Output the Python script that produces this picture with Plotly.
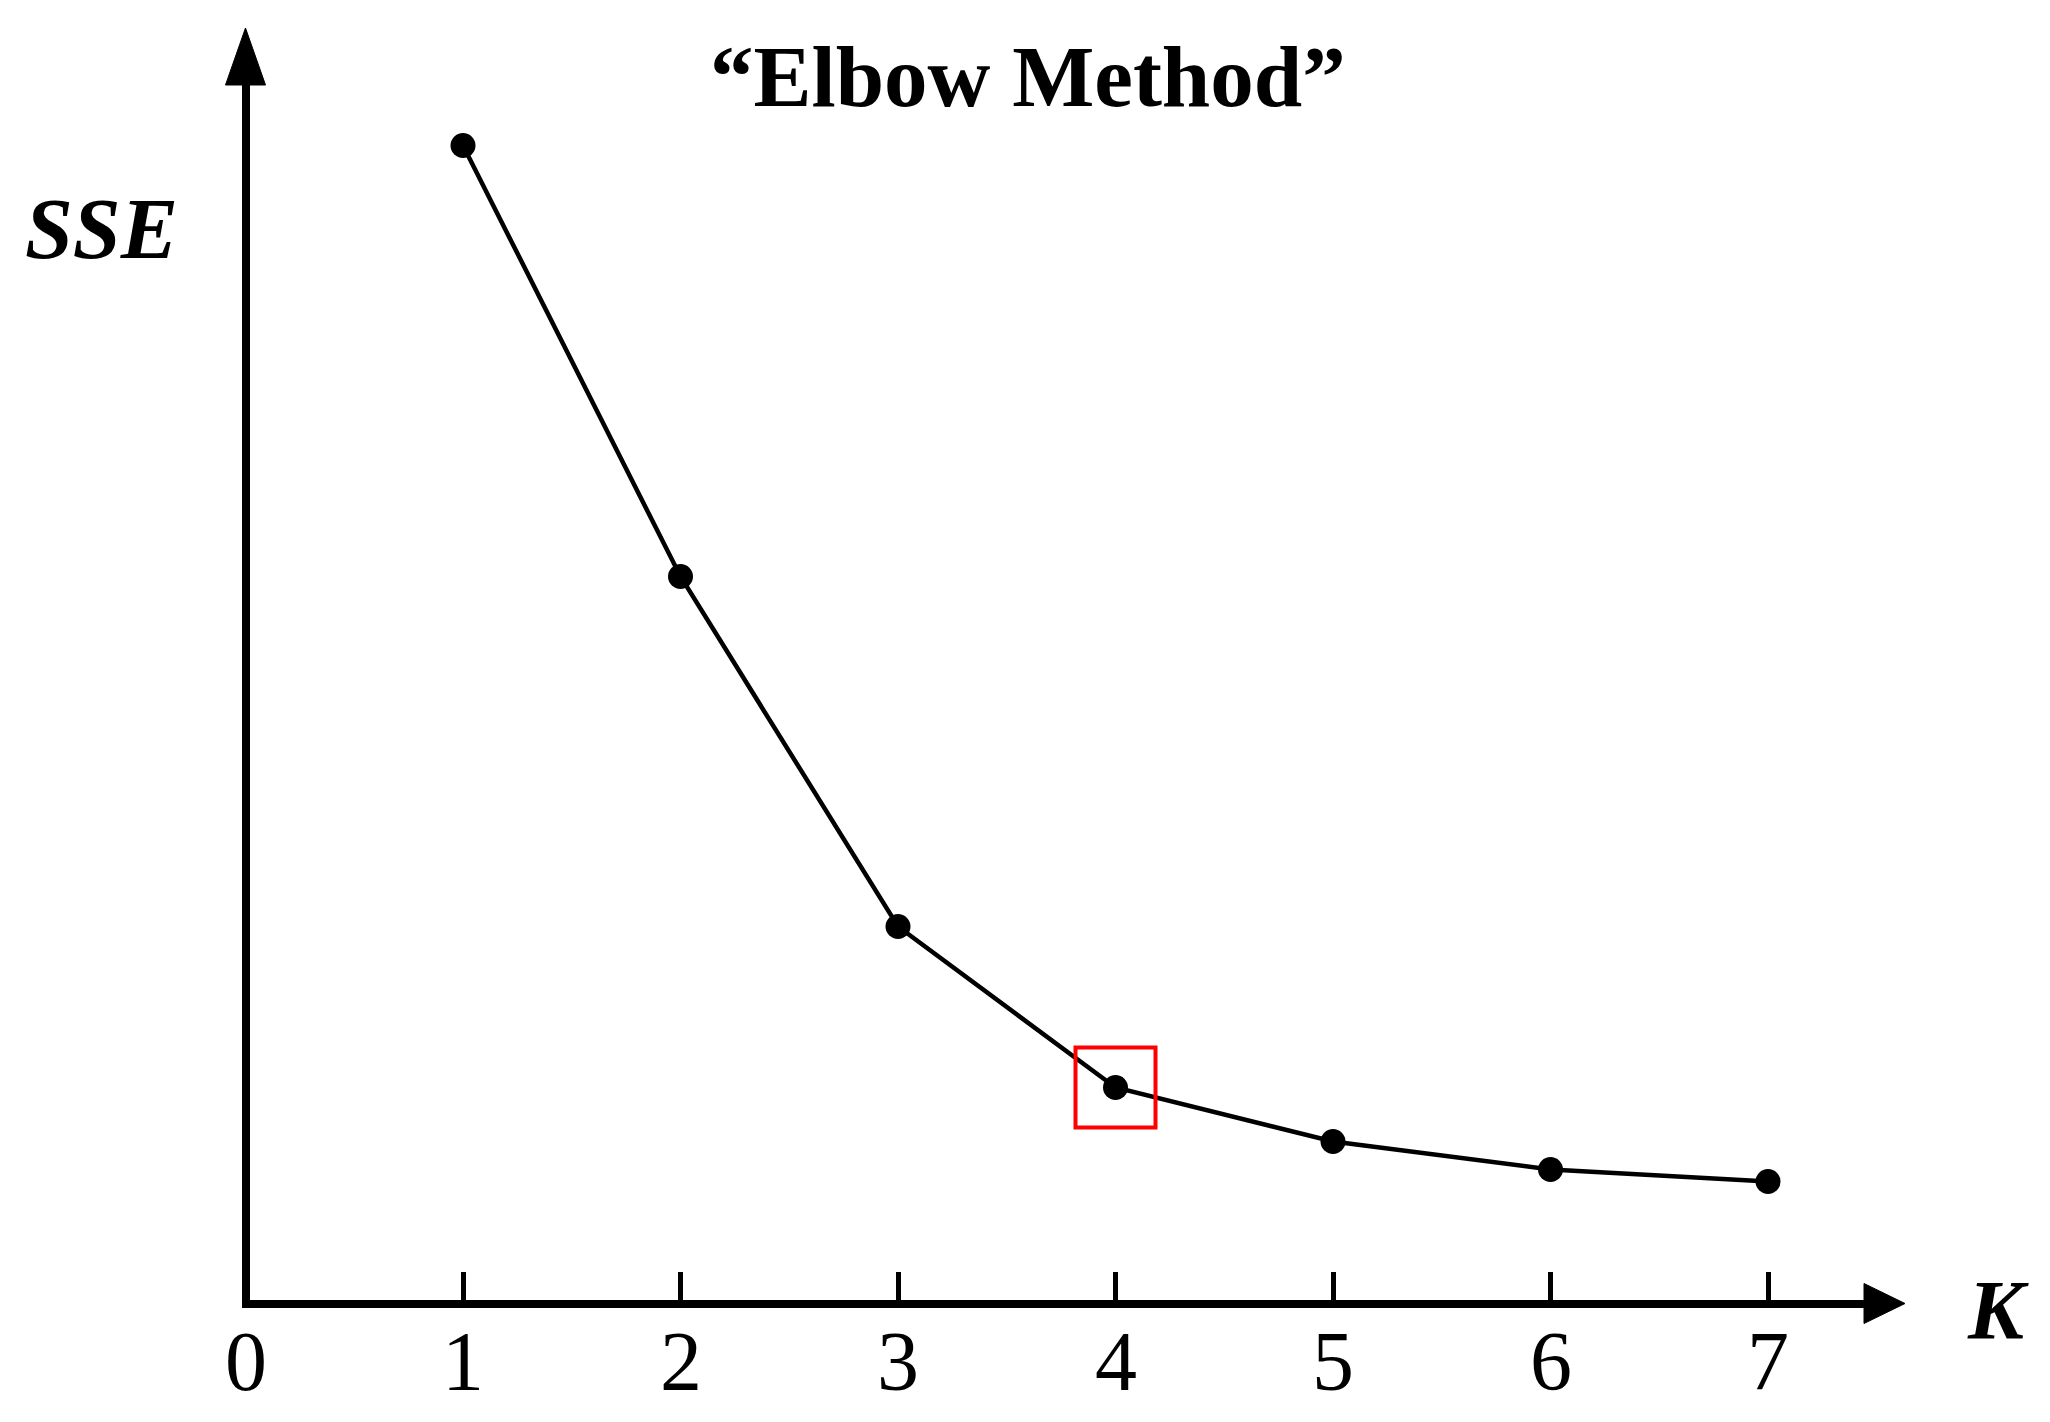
import plotly.graph_objects as go

# ---------------- data ----------------
k_values = [1, 2, 3, 4, 5, 6, 7]
sse_values = [11.58, 7.27, 3.77, 2.16, 1.62, 1.34, 1.22]
tick_values = [0, 1, 2, 3, 4, 5, 6, 7]
tick_labels = ["0", "1", "2", "3", "4", "5", "6", "7"]
elbow_k = 4

title_text = "“Elbow Method”"
x_title = "K"
y_title = "SSE"

# ---------------- layout geometry (page pixels) ----------------
PAGE_MARGIN = 8            # default body margin of the html page
W, H = 2050 - 2 * PAGE_MARGIN, 1422 - 2 * PAGE_MARGIN
ORIGIN_X = 245.5           # page x pixel of K = 0 (centre of y axis line)
ORIGIN_Y = 1303.5          # page y pixel of SSE = 0 (centre of x axis line)
PX_PER_K = 217.5
PX_PER_SSE = 100.0
PLOT_RIGHT = 1872
PLOT_TOP = 70
AXIS_W = 8
HALF_AXIS = AXIS_W / 2
SERIF = "Liberation Serif, Times New Roman, serif"


def paper(x_px, y_px):
    return (x_px - PAGE_MARGIN) / W, 1 - (y_px - PAGE_MARGIN) / H


def tri_path(points):
    pts = [paper(x, y) for x, y in points]
    return "M " + " L ".join(f"{x:.5f},{y:.5f}" for x, y in pts) + " Z"


fig = go.Figure()

fig.add_trace(go.Scatter(
    x=k_values, y=sse_values,
    mode="lines+markers",
    line=dict(color="black", width=4.5),
    marker=dict(color="black", size=25),
    cliponaxis=False,
    showlegend=False,
    hoverinfo="skip",
))

# red box around the elbow point
elbow_sse = sse_values[k_values.index(elbow_k)]
half_box_px = 40
shapes = [
    dict(type="rect", xref="x", yref="y",
         x0=elbow_k - half_box_px / PX_PER_K, x1=elbow_k + half_box_px / PX_PER_K,
         y0=elbow_sse - half_box_px / PX_PER_SSE, y1=elbow_sse + half_box_px / PX_PER_SSE,
         line=dict(color="#FF0000", width=4), layer="above"),
    # x-axis arrow head
    dict(type="path", xref="paper", yref="paper",
         path=tri_path([(1905, ORIGIN_Y), (1864, ORIGIN_Y - 20), (1864, ORIGIN_Y + 20)]),
         fillcolor="black", line=dict(color="black", width=1)),
    # y-axis arrow head
    dict(type="path", xref="paper", yref="paper",
         path=tri_path([(ORIGIN_X, 28), (ORIGIN_X - 20, 85), (ORIGIN_X + 20, 85)]),
         fillcolor="black", line=dict(color="black", width=1)),
]

tx, ty = paper(1028, 77)
sx, sy = paper(101, 229)
kx, ky = paper(1998, 1310)
_, label_y = paper(0, 1361)
annotations = [
    dict(text=title_text, x=tx, y=ty, xref="paper", yref="paper",
         xanchor="center", yanchor="middle", showarrow=False,
         font=dict(family=SERIF, size=87, color="black", weight="bold")),
    dict(text=y_title, x=sx, y=sy, xref="paper", yref="paper",
         xanchor="center", yanchor="middle", showarrow=False,
         font=dict(family=SERIF, size=86, color="black", weight="bold", style="italic")),
    dict(text=x_title, x=kx, y=ky, xref="paper", yref="paper",
         xanchor="center", yanchor="middle", showarrow=False,
         font=dict(family=SERIF, size=84, color="black", weight="bold", style="italic")),
]
# tick labels placed under each tick value (same pixel scale as the x axis)
for tv, tl in zip(tick_values, tick_labels):
    lx, _ = paper(ORIGIN_X + tv * PX_PER_K, 0)
    annotations.append(dict(
        text=tl, x=lx, y=label_y, xref="paper", yref="paper",
        xanchor="center", yanchor="middle", showarrow=False,
        font=dict(family=SERIF, size=84, color="black")))

plot_left = ORIGIN_X + HALF_AXIS
plot_bottom = ORIGIN_Y - HALF_AXIS

fig.update_layout(
    width=W, height=H,
    margin=dict(l=0, r=0, t=0, b=0),
    paper_bgcolor="white", plot_bgcolor="white",
    shapes=shapes, annotations=annotations,
    showlegend=False,
    xaxis=dict(
        domain=[paper(plot_left, 0)[0], paper(PLOT_RIGHT, 0)[0]],
        range=[(plot_left - ORIGIN_X) / PX_PER_K, (PLOT_RIGHT - ORIGIN_X) / PX_PER_K],
        showgrid=False, zeroline=False,
        showline=True, linecolor="black", linewidth=AXIS_W,
        ticks="inside", ticklen=28, tickwidth=5, tickcolor="black",
        tickvals=tick_values, showticklabels=False,
        automargin=False, fixedrange=True,
    ),
    yaxis=dict(
        domain=[paper(0, plot_bottom)[1], paper(0, PLOT_TOP)[1]],
        range=[(ORIGIN_Y - plot_bottom) / PX_PER_SSE, (ORIGIN_Y - PLOT_TOP) / PX_PER_SSE],
        showgrid=False, zeroline=False,
        showline=True, linecolor="black", linewidth=AXIS_W,
        ticks="", showticklabels=False,
        automargin=False, fixedrange=True,
    ),
)

fig.write_html("out.html")
